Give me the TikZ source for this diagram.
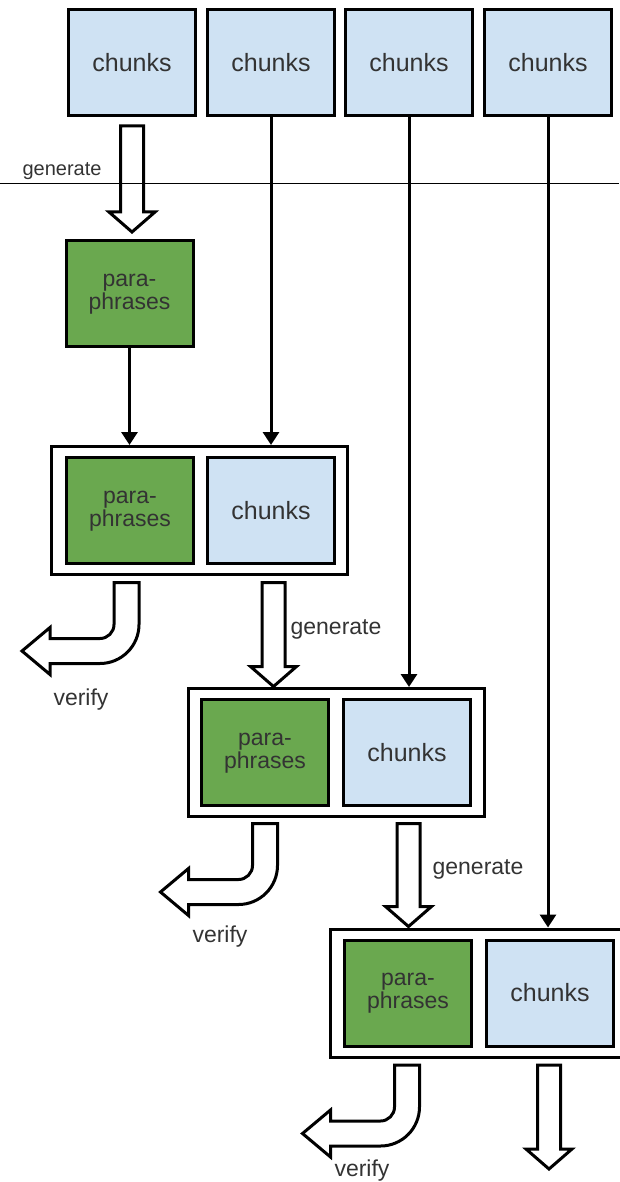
\documentclass[tikz,border=0pt]{standalone}
\usepackage{fontspec}
\setmainfont{Liberation Sans}
\usetikzlibrary{arrows.meta}
\definecolor{chunkblue}{HTML}{CFE2F3}
\definecolor{paragreen}{HTML}{6AA84F}
\definecolor{ink}{HTML}{333333}

% two centred lines with tight spacing, set a little below the box centre
\newcommand\twolines[2]{\raisebox{-4.5pt}{\begin{tabular}{@{}c@{}}#1\\#2\end{tabular}}}

\tikzset{
  % hollow block arrow pointing down; origin = top centre of the shaft
  pics/blockdown/.style={code={
    \draw[hollow] (-11.5,0) -- (-11.5,{#1-20}) -- (-23,{#1-20}) -- (0,#1)
      -- (23,{#1-20}) -- (11.5,{#1-20}) -- (11.5,0) -- cycle;
  }},
  % hollow block arrow going down, then bending to the left
  pics/blockbend/.style={code={
    \draw[hollow] (-12.5,0) -- (-12.5,42)
      .. controls (-12.5,49.7) and (-18.8,56) .. (-26.5,56)
      -- (-76.5,56) -- (-76.5,45) -- (-104.5,68.5) -- (-76.5,92) -- (-76.5,81)
      -- (-26.5,81) .. controls (-5,81) and (12.5,63.5) .. (12.5,42)
      -- (12.5,0) -- cycle;
  }},
}

\begin{document}
\begin{tikzpicture}[x=1pt,y=-1pt,
  box/.style={draw=black, line width=3pt, minimum width=127pt, minimum height=106pt,
    inner sep=0pt, text=ink},
  chunkbox/.style={box, fill=chunkblue, font=\fontsize{25}{28}\selectfont},
  parabox/.style={box, fill=paragreen, font=\fontsize{23}{20.5}\selectfont},
  group/.style={draw=black, line width=3pt, fill=white, minimum width=296pt,
    minimum height=128pt, inner sep=0pt},
  feed/.style={line width=3pt, -{Triangle[width=16pt,length=13pt]}},
  hollow/.style={draw=black, line width=3pt, fill=white, line join=miter},
  lbl/.style={text=ink, inner sep=0pt, font=\fontsize{23}{26}\selectfont},
  divider/.style={line width=1pt},
]
\useasboundingbox (0,0) rectangle (619,1182);

% source chunks
\node[chunkbox] (c1) at (132,63) {chunks};
\node[chunkbox] (c2) at (271,63) {chunks};
\node[chunkbox] (c3) at (409,63) {chunks};
\node[chunkbox] (c4) at (548,63) {chunks};

% first paraphrase step
\node[parabox] (p1) at (129.5,293.5) {\twolines{para-}{phrases}};

% stage 1
\node[group] (g1) at (199.5,510.5) {};
\node[parabox] (g1p) at (130,510.5) {\twolines{para-}{phrases}};
\node[chunkbox] (g1c) at (271,510.5) {chunks};

% stage 2
\node[group] (g2) at (336,752.5) {};
\node[parabox] (g2p) at (265,752.5) {\twolines{para-}{phrases}};
\node[chunkbox] (g2c) at (407,752.5) {chunks};

% stage 3
\node[group] (g3) at (478,993) {};
\node[parabox] (g3p) at (408,993) {\twolines{para-}{phrases}};
\node[chunkbox] (g3c) at (550,993) {chunks};

% generate steps
\pic at ([yshift=-8.5pt]c1.south) {blockdown=106};
\pic at ([xshift=2.5pt,yshift=-6.5pt]g1c.south |- g1.south) {blockdown=104};
\pic at ([xshift=1.5pt,yshift=-5.5pt]g2c.south |- g2.south) {blockdown=103};
\pic at ([xshift=-1pt,yshift=-6.5pt]g3c.south |- g3.south) {blockdown=104};

% verify steps
\pic at ([xshift=-3.5pt,yshift=-6.5pt]g1p.south |- g1.south) {blockbend};
\pic at ([yshift=-5.5pt]g2p.south |- g2.south) {blockbend};
\pic at ([xshift=-1pt,yshift=-6.5pt]g3p.south |- g3.south) {blockbend};

% divider
\coordinate (rule-l) at (0,184);
\coordinate (rule-r) at (619,184);
\draw[divider] (rule-l) -- (rule-r);

% chunks fed forward
\draw[feed] (p1.south) -- (p1.south |- g1.north);
\draw[feed] (c2.south) -- (c2.south |- g1.north);
\draw[feed] (c3.south) -- (c3.south |- g2.north);
\draw[feed] (c4.south) -- (c4.south |- g3.north);

% labels
\node[lbl, font=\fontsize{20}{24}\selectfont] (gen1) at (62,171) {generate};
\node[lbl] (gen2) at (336,629) {generate};
\node[lbl] (gen3) at (478,869) {generate};
\node[lbl] (ver1) at (81,700) {verify};
\node[lbl] (ver2) at (220,937) {verify};
\node[lbl] (ver3) at (362,1171) {verify};
\end{tikzpicture}
\end{document}
